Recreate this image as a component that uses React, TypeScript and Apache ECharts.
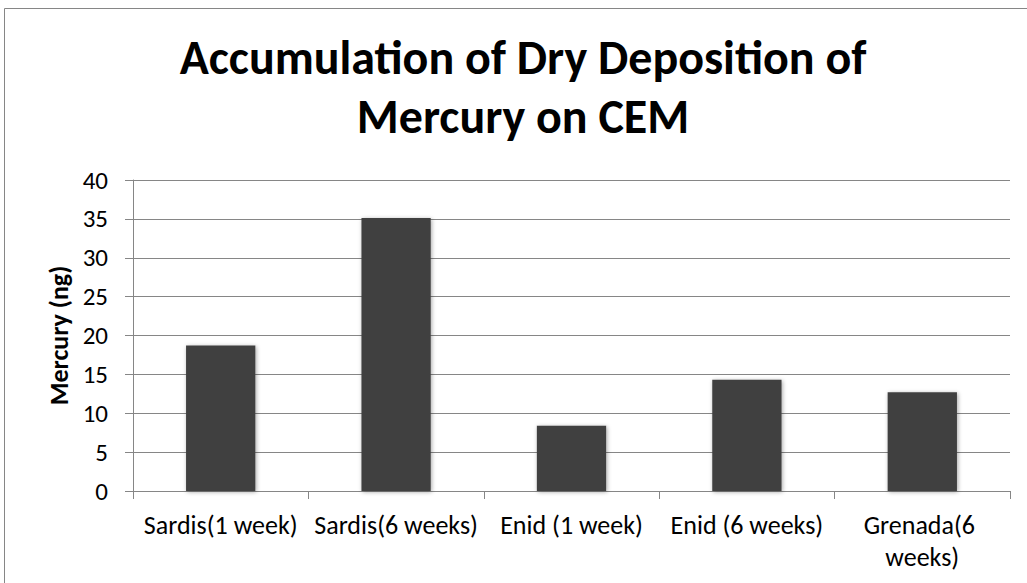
import React, { useEffect, useRef } from "react";
import * as echarts from "echarts";

const categories = ["Sardis(1 week)", "Sardis(6 weeks)", "Enid (1 week)", "Enid (6 weeks)", "Grenada(6 weeks)"];
const values = [18.7, 35.1, 8.4, 14.3, 12.7];
const titleText = "Accumulation of Dry Deposition of\nMercury on CEM";
const yAxisName = "Mercury (ng)";

export default function App() {
  const ref = useRef<HTMLDivElement>(null);
  useEffect(() => {
    const chart = echarts.init(ref.current!, null, { renderer: "svg" });
    const font = "Carlito, 'Open Sans', sans-serif";
    chart.setOption({
      animation: false,
      backgroundColor: "#fff",
      graphic: [
        {
          type: "rect",
          shape: { x: 4.5, y: 8.5, width: 1040, height: 600 },
          style: { fill: "none", stroke: "#868686", lineWidth: 1 },
          silent: true,
          z: -1,
        },
      ],
      title: {
        text: titleText,
        left: 523,
        textAlign: "center",
        top: 28,
        padding: 0,
        textStyle: { fontFamily: font, fontWeight: "bold", fontSize: 48, color: "#000", lineHeight: 59 },
      },
      grid: { left: 133, right: 17, top: 180, bottom: 92 },
      xAxis: {
        type: "category",
        data: categories,
        axisLine: { lineStyle: { color: "#868686", width: 1 } },
        axisTick: { show: true, length: 8, alignWithLabel: false, lineStyle: { color: "#868686" } },
        axisLabel: {
          color: "#000",
          fontFamily: font,
          fontSize: 26,
          margin: 18,
          interval: 0,
          width: 172,
          overflow: "break",
          lineHeight: 32,
        },
      },
      yAxis: {
        type: "value",
        min: 0,
        max: 40,
        interval: 5,
        name: yAxisName,
        nameLocation: "middle",
        nameGap: 61,
        nameTextStyle: { fontFamily: font, fontWeight: "bold", fontSize: 26, color: "#000" },
        axisLine: { show: true, lineStyle: { color: "#868686", width: 1 } },
        axisTick: { show: true, length: 8, lineStyle: { color: "#868686" } },
        axisLabel: { color: "#000", fontFamily: font, fontSize: 25, margin: 25 },
        splitLine: { lineStyle: { color: "#868686", width: 1 } },
      },
      series: [
        {
          type: "bar",
          data: values,
          barWidth: "39.5%",
          itemStyle: {
            color: "#404040",
            shadowBlur: 4,
            shadowColor: "rgba(0,0,0,0.35)",
            shadowOffsetX: 1,
            shadowOffsetY: 1,
          },
        },
      ],
    });
    return () => chart.dispose();
  }, []);
  return <div ref={ref} style={{ position: "absolute", left: 0, top: 0, width: 1027, height: 583 }} />;
}
